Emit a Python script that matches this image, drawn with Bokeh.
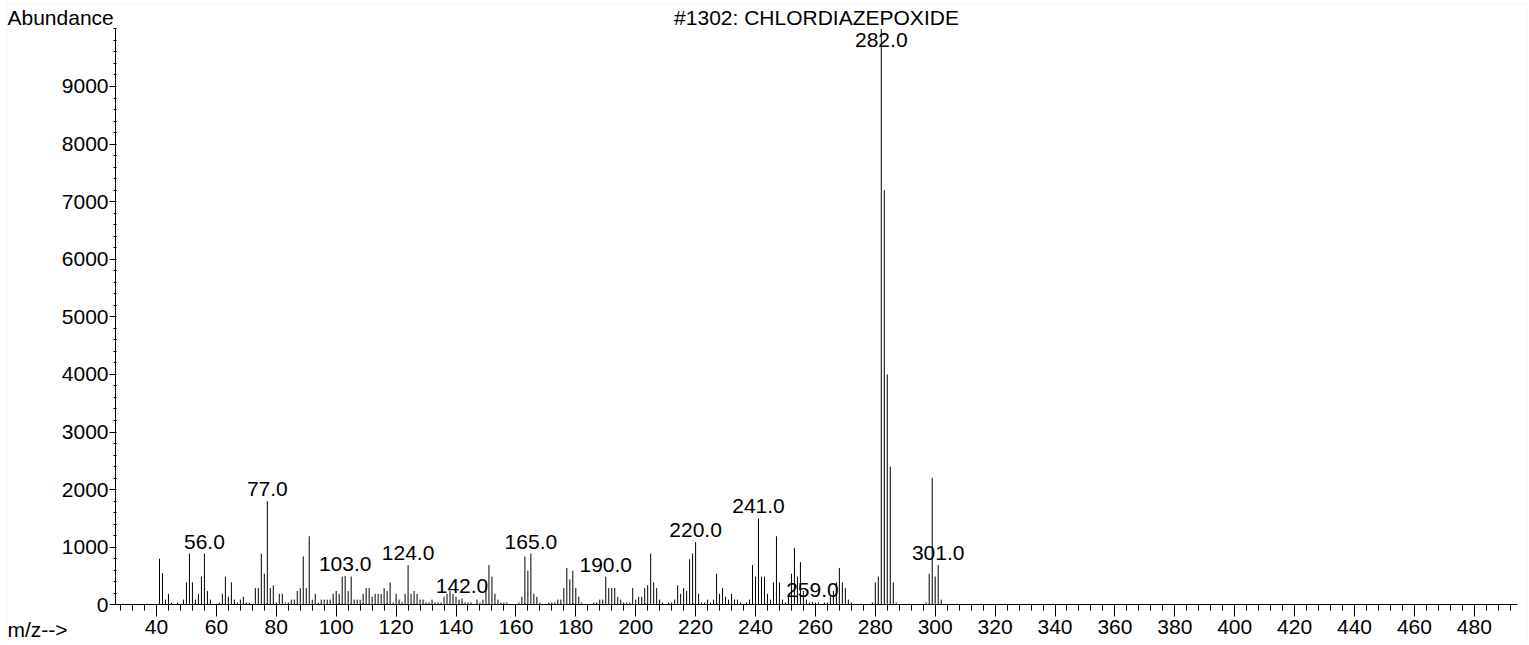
from bokeh.plotting import figure
from bokeh.models import Range1d, Label, FixedTicker, BoxAnnotation
from bokeh.embed import file_html
from bokeh.resources import INLINE
from bokeh.core.properties import value

# ---- data ----
mz = [41, 42, 43, 44, 45, 47, 49, 50, 51, 52, 53, 54, 55, 56, 57, 58,
      61, 62, 63, 64, 65, 66, 67, 68, 69, 70, 71, 73, 74, 75, 76, 77, 78, 79, 80,
      81, 82, 83, 84, 85, 86, 87, 88, 89, 90, 91, 92, 93, 94, 95, 96, 97, 98, 99, 100,
      101, 102, 103, 104, 105, 106, 107, 108, 109, 110, 111, 112, 113, 114, 115, 116,
      117, 118, 119, 120, 121, 122, 123, 124, 125, 126, 127, 128, 129, 130, 131, 132,
      133, 134, 135, 136, 137, 138, 139, 140, 141, 142, 143, 144, 145, 147, 148, 149,
      150, 151, 152, 153, 154, 155, 156, 157, 161, 162, 163, 164, 165, 166, 167, 168,
      171, 172, 173, 174, 175, 176, 177, 178, 179, 180, 181, 182, 186, 187, 188, 189,
      190, 191, 192, 193, 194, 195, 196, 197, 198, 199, 200, 201, 202, 203, 204, 205,
      206, 207, 208, 209, 211, 212, 213, 214, 215, 216, 217, 218, 219, 220, 221, 222,
      223, 224, 225, 226, 227, 228, 229, 230, 231, 232, 233, 234, 235, 237, 238, 239,
      240, 241, 242, 243, 244, 245, 246, 247, 248, 249, 250, 251, 252, 253, 254, 255,
      256, 257, 258, 259, 260, 261, 263, 264, 265, 266, 267, 268, 269, 270, 271, 272,
      279, 280, 281, 282, 283, 284, 285, 286, 287, 297, 298, 299, 300, 301, 302]
abundance = [800, 550, 90, 190, 40, 40, 90, 390, 890, 390, 90, 190, 490, 890, 240, 90,
             40, 190, 490, 140, 390, 90, 40, 90, 140, 40, 40, 290, 290, 890, 540, 1800, 290, 340, 40,
             190, 190, 40, 40, 90, 90, 240, 290, 840, 290, 1190, 90, 190, 40, 90, 90, 90, 90, 190, 240,
             190, 490, 500, 240, 490, 90, 90, 90, 190, 290, 290, 140, 190, 190, 190, 290,
             240, 390, 40, 190, 90, 40, 190, 690, 190, 240, 190, 90, 90, 40, 40, 90,
             40, 40, 40, 140, 190, 240, 190, 140, 90, 110, 40, 40, 40, 90, 40, 90,
             340, 690, 490, 190, 90, 40, 40, 40, 40, 140, 840, 590, 890, 190, 140, 40,
             40, 40, 40, 90, 90, 290, 640, 440, 590, 290, 140, 40, 40, 40, 90, 90,
             490, 290, 290, 290, 140, 90, 40, 40, 40, 290, 90, 140, 140, 290, 340, 890,
             390, 290, 90, 40, 40, 40, 90, 340, 190, 290, 240, 790, 890, 1090, 190, 40,
             40, 90, 40, 90, 540, 190, 290, 140, 90, 190, 90, 90, 40, 40, 90, 690,
             490, 1500, 490, 490, 190, 90, 390, 1190, 390, 90, 40, 140, 540, 990, 490, 740,
             240, 90, 40, 50, 40, 40, 40, 40, 140, 240, 390, 640, 390, 290, 90, 40,
             40, 390, 490, 10000, 7200, 4000, 2400, 390, 40, 40, 540, 2200, 490, 690, 90]
labeled_mz = [56, 77, 103, 124, 142, 165, 190, 220, 241, 259, 282, 301]

x_major = list(range(40, 481, 20))
x_minor = list(range(28, 493, 4))
y_major = list(range(0, 9001, 1000))
y_minor = list(range(0, 10001, 200))
y_axis_top = 10000

title_text = "#1302: CHLORDIAZEPOXIDE"
y_title = "Abundance"
x_title = "m/z-->"

# ---- layout / style constants (pixels) ----
W, H = 1528, 644
X40_PX, PX_PER_MZ = 156.0, 2.995      # where m/z 40 sits, and pixels per m/z unit
Y0_PX, PX_PER_AB = 604.3, 0.05759     # baseline, and pixels per abundance unit
AXIS_LEFT_PX, AXIS_RIGHT_PX = 115.0, 1517.0
FONT = "Liberation Sans"
FS = "21px"
INK = "#000000"
LABEL_CAP = 9600
LABEL_GAP = -12


def xd(px):
    return 40 + (px - X40_PX) / PX_PER_MZ


def yd(py):
    return (Y0_PX - py) / PX_PER_AB


p = figure(width=W, height=H,
           x_range=Range1d(xd(0), xd(W)), y_range=Range1d(yd(H), yd(0)),
           output_backend="svg", toolbar_location=None, min_border=0,
           x_axis_location="below", y_axis_location="left")
p.outline_line_color = None
p.grid.visible = False
p.background_fill_color = "white"
p.border_fill_color = "white"

p.add_layout(BoxAnnotation(left=xd(6.5), right=xd(W - 1.5), top=yd(3.5), bottom=yd(H + 20),
                           fill_alpha=0, line_color="#d9d9d9", line_width=1, level="underlay"))

p.segment(x0=mz, y0=[0] * len(mz), x1=mz, y1=abundance, line_color=INK, line_width=1)

lab_x = labeled_mz
lab_y = [min(abundance[mz.index(m)], LABEL_CAP) for m in labeled_mz]
lab_t = [f"{m}.0" for m in labeled_mz]
p.text(x=lab_x, y=lab_y, text=lab_t, text_align="center", text_baseline="alphabetic",
       y_offset=LABEL_GAP, text_font=value(FONT), text_font_size=value(FS), text_color=INK)

xa = p.xaxis[0]
xa.fixed_location = 0
xa.bounds = (xd(AXIS_LEFT_PX), xd(AXIS_RIGHT_PX))
xa.ticker = FixedTicker(ticks=x_major, minor_ticks=x_minor)
xa.axis_line_color = INK
xa.major_tick_line_color = INK
xa.minor_tick_line_color = INK
xa.major_tick_in = 0
xa.major_tick_out = 12
xa.minor_tick_in = 0
xa.minor_tick_out = 6
xa.major_label_standoff = 3
xa.major_label_text_font = FONT
xa.major_label_text_font_size = FS
xa.major_label_text_color = INK

ya = p.yaxis[0]
ya.fixed_location = xd(AXIS_LEFT_PX)
ya.bounds = (0, y_axis_top)
ya.ticker = FixedTicker(ticks=y_major, minor_ticks=y_minor)
ya.axis_line_color = INK
ya.major_tick_line_color = INK
ya.minor_tick_line_color = INK
ya.major_tick_in = 0
ya.major_tick_out = 6
ya.minor_tick_in = 1
ya.minor_tick_out = 2
ya.major_label_standoff = 1
ya.major_label_text_font = FONT
ya.major_label_text_font_size = FS
ya.major_label_text_color = INK

for txt, xpx, ypx, align in [(y_title, 7, 16.5, "left"),
                             (title_text, (AXIS_LEFT_PX + AXIS_RIGHT_PX) / 2, 16.5, "center"),
                             (x_title, 7, 629, "left")]:
    p.add_layout(Label(x=xd(xpx), y=yd(ypx), text=txt,
                       text_align=align, text_baseline="middle", text_font=FONT,
                       text_font_size=FS, text_color=INK))

open("out.html", "w").write(file_html(p, INLINE))
